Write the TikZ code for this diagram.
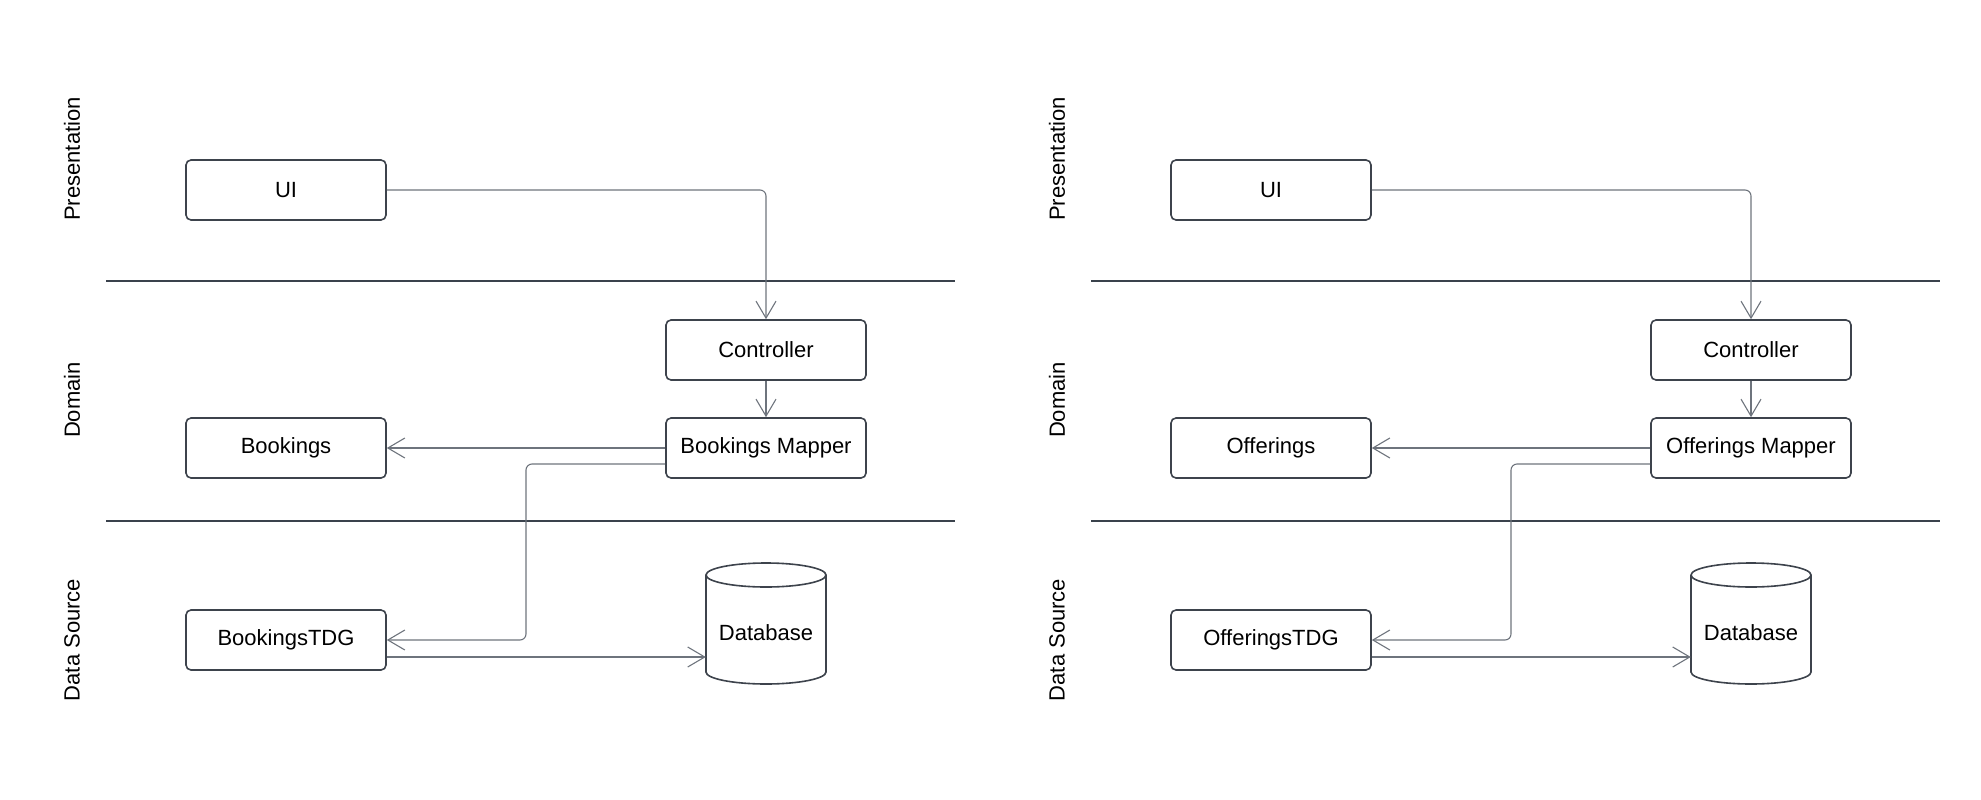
\documentclass[tikz,border=0pt]{standalone}
\usepackage{fontspec}
\setmainfont{Liberation Sans}
\usetikzlibrary{arrows.meta,calc}
\definecolor{boxline}{HTML}{3D434C}
\definecolor{connline}{HTML}{6E747D}
\definecolor{layerline}{HTML}{3A424C}
\tikzset{
  box/.style={draw=boxline, line width=1.6pt, rounded corners=5pt, minimum width=200pt, minimum height=60pt, inner sep=0pt, font=\fontsize{22}{26}\selectfont, text=black},
  lbl/.style={rotate=90, font=\fontsize{22}{26}\selectfont, text=black},
  conn/.style={draw=connline, line width=1.1pt, -{Straight Barb[length=17pt,width=20pt,line width=1.1pt]}},
  layer/.style={draw=layerline, line width=1.6pt},
  dbshape/.style={draw=boxline, line width=1.6pt, fill=white}
}
\newcommand\drawpanel[2]{%
  % layer separators
  \coordinate (#1l1a) at (106,281); \coordinate (#1l1b) at (955,281);
  \coordinate (#1l2a) at (106,521); \coordinate (#1l2b) at (955,521);
  \draw[layer] (#1l1a) -- (#1l1b);
  \draw[layer] (#1l2a) -- (#1l2b);
  % layer labels
  \node[lbl] (#1lp) at (72,159) {Presentation};
  \node[lbl] (#1ld) at (72,400) {Domain};
  \node[lbl] (#1ls) at (72,640) {Data Source};
  % boxes
  \node[box] (#1ui) at (286,190) {UI};
  \node[box] (#1ctrl) at (766,350) {Controller};
  \node[box] (#1map) at (766,448) {#2s Mapper};
  \node[box] (#1bk) at (286,448) {#2s};
  \node[box] (#1tdg) at (286,640) {#2sTDG};
  % database cylinder
  \node[minimum width=120pt, minimum height=121pt, inner sep=0pt] (#1db) at (766,623.5) {};
  \draw[dbshape] (706,575) -- (706,672) arc[start angle=180, end angle=360, x radius=60pt, y radius=12pt] -- (826,575);
  \draw[dbshape] (766,575) ellipse[x radius=60pt, y radius=12pt];
  \node[font=\fontsize{22}{26}\selectfont] (#1dbt) at (766,633) {Database};
  % connectors
  \coordinate (#1bend) at (526,464);
  \draw[conn, rounded corners=6pt] (#1ui.east) -| (#1ctrl.north);
  \draw[conn] (#1ctrl.south) -- (#1map.north);
  \draw[conn] (#1map.west) -- (#1bk.east);
  \draw[conn, rounded corners=6pt] ([yshift=-16pt]#1map.west) -- (#1bend) -- (#1bend |- #1tdg.east) -- (#1tdg.east);
  \draw[conn] ([yshift=-17pt]#1tdg.east) -- ([yshift=-17pt]#1tdg.east -| #1db.west);
}
\begin{document}
\begin{tikzpicture}[x=1pt,y=-1pt]
\useasboundingbox (0,0) rectangle (1981,800);
\begin{scope}
\drawpanel{L}{Booking}
\end{scope}
\begin{scope}[xshift=985pt]
\drawpanel{R}{Offering}
\end{scope}
\end{tikzpicture}
\end{document}
